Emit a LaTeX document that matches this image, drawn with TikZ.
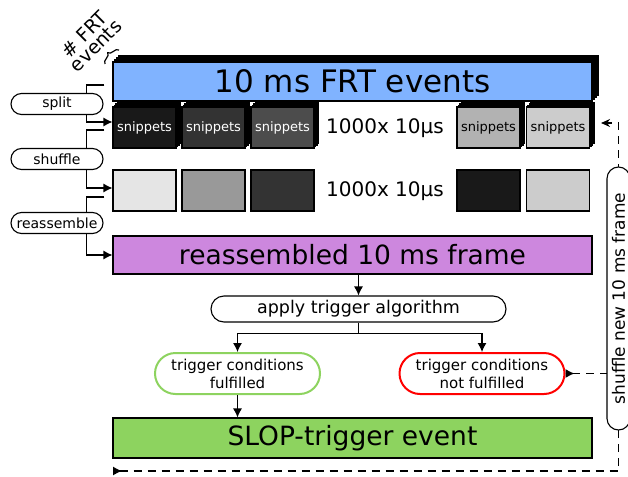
\documentclass[tikz,border=0pt]{standalone}
\usepackage{fontspec}
\setmainfont{DejaVu Sans}
\usetikzlibrary{shapes, calc, arrows.meta, decorations.pathreplacing}

\definecolor{frtblue}{RGB}{128,179,255}
\definecolor{frtdark}{RGB}{0,51,128}
\definecolor{framepurple}{RGB}{205,135,222}
\definecolor{slopgreen}{RGB}{141,211,95}

\tikzset{
  bigbox/.style={draw, minimum width=479, minimum height=39, inner sep=0},
  snip/.style={draw, minimum width=63, minimum height=41, inner sep=0, font=\fontsize{13}{15}\selectfont},
  stepname/.style={draw, rounded rectangle, fill=white, minimum width=94, minimum height=21, inner sep=1, font=\fontsize{14}{16}\selectfont},
  cond/.style={draw, rounded rectangle, line width=2, minimum width=169, minimum height=41, inner sep=2, align=center, font=\fontsize{15}{18}\selectfont},
  loopline/.style={line width=1.2, dash pattern=on 8pt off 6pt},
}

\begin{document}
\begin{tikzpicture}[x=1pt, y=-1pt, line width=1.1, >={Latex[length=9pt, width=9pt]}]
\useasboundingbox (0,0) rectangle (628,476);

% FRT events with stack behind
\foreach \i in {3,2,1}
  \node[bigbox, fill=frtdark] at (352.5+2*\i, 81.5-2*\i) {};
\node[bigbox, fill=frtblue, font=\fontsize{31}{34}\selectfont] (frt) at (352.5,81.5) {10 ms FRT events};
\draw[decorate, decoration={brace, amplitude=6}, line width=1.2] (105,64) -- (119,50);
\node[rotate=45, align=center, font=\fontsize{19}{16}\selectfont] (nfrt) at (90,40) {\# FRT\\events};

% split snippets
\foreach \x/\c/\t [count=\n] in {144.5/black!90/white, 213.5/black!80/white, 282.5/black!70/white, 488.5/black!30/black, 558/black!20/black} {
  \foreach \i in {3,2,1}
    \node[snip, fill=\c] at (\x+1.5*\i, 127.5-1.5*\i) {};
  \node[snip, fill=\c, text=\t] (a\n) at (\x,127.5) {snippets};
}
\node[font=\fontsize{20}{23}\selectfont] (na) at (385,128) {1000x 10µs};

% shuffled snippets
\foreach \x/\c [count=\n] in {144.5/black!10, 213.5/black!40, 282.5/black!80, 488.5/black!90, 558/black!20}
  \node[snip, fill=\c] (b\n) at (\x,190.5) {};
\node[font=\fontsize{20}{23}\selectfont] (nb) at (385,191) {1000x 10µs};

\node[bigbox, minimum height=38, fill=framepurple, font=\fontsize{26.5}{29}\selectfont] (recon) at (352.5,255) {reassembled 10 ms frame};

% left steps
\draw[->] ($(frt.west)+(-8,3.5)$) -- ++(-18,0) |- ($(a1.west)+(0,-5.5)$);
\draw[->] ($(a1.west)+(-8,2.5)$) -- ++(-18,0) |- ($(b1.west)+(0,-2.5)$);
\draw[->] ($(b1.west)+(-8,6.5)$) -- ++(-18,0) |- (recon.west);
\node[stepname] (split) at (57,104) {split};
\node[stepname] (shuffle) at (57,159) {shuffle};
\node[stepname] (reass) at (57,223) {reassemble};

% trigger
\node[draw, rounded rectangle, minimum width=299, minimum height=26, inner sep=2, font=\fontsize{17.5}{20}\selectfont] (apply) at (358.5,309) {apply trigger algorithm};
\node[cond, draw=slopgreen] (ful) at (237.5,373.5) {trigger conditions\\fulfilled};
\node[cond, draw=red] (notful) at (482,373.5) {trigger conditions\\not fulfilled};
\node[bigbox, minimum height=40, fill=slopgreen, font=\fontsize{26.5}{29}\selectfont] (slop) at (352.5,438) {SLOP-trigger event};

\draw[->] (apply.north |- recon.south) -- (apply.north);
\draw[->] (apply.south) -- ++(0,11) -| (ful.north);
\draw[->] (apply.south) -- ++(0,11) -| (notful.north);
\draw[->] (ful.south) -- (ful.south |- slop.north);

% loop back
\coordinate (lb) at (113,471);
\coordinate (rt) at (618.5,123);
\draw[loopline, {Latex[reversed, length=9pt, width=9pt]}-{Stealth[length=9pt, width=8pt, inset=3pt]}] (lb) -- (lb -| rt) -- (rt) -- ($(a5.east)+(11,-4.5)$);
\draw[loopline, {Latex[reversed, length=9pt, width=9pt]}-] (notful.east) -- (notful.east -| rt);
\node[draw, rounded rectangle, fill=white, rotate=90, minimum width=267, minimum height=23, inner sep=2, font=\fontsize{17}{20}\selectfont] (shufnew) at (618.5,298.5) {shuffle new 10 ms frame};
\end{tikzpicture}
\end{document}
